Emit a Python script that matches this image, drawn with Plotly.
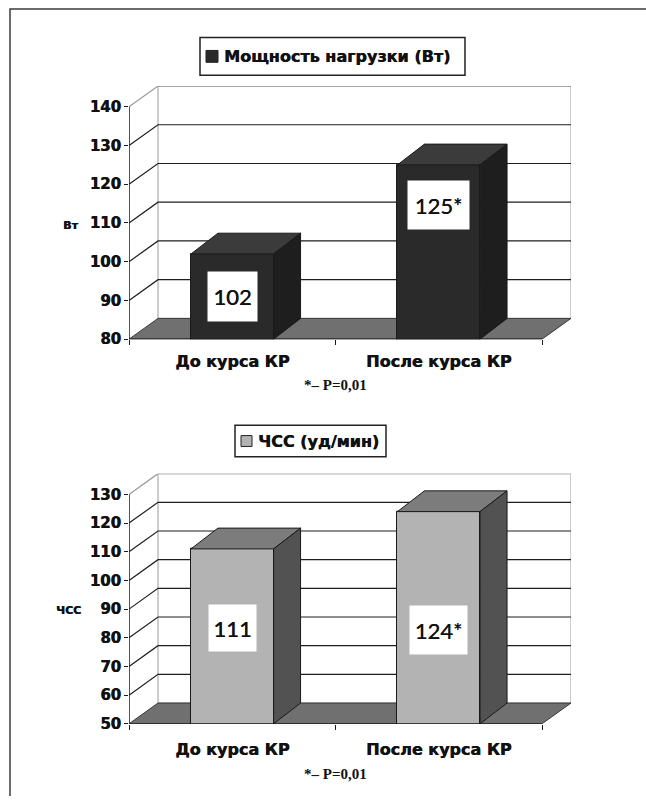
import plotly.graph_objects as go

# ---- data -------------------------------------------------------------
categories = ["До курса КР", "После курса КР"]

power_values = [102, 125]
power_labels = ["102", "125*"]
power_ticks = [80, 90, 100, 110, 120, 130, 140]

hr_values = [111, 124]
hr_labels = ["111", "124*"]
hr_ticks = [50, 60, 70, 80, 90, 100, 110, 120, 130]

note_text = "*– P=0,01"

# ---- page geometry ----------------------------------------------------
W, H = 646, 805
WALL_D = (29, 21)   # depth of the 3-D box (px right, px up)
BAR_D = (27, 21)    # depth of each 3-D column
BAR_WIDTH = 0.4

HEAVY = "0.5px 0 0 #111111"
TICK_FONT = dict(family="DejaVu Sans", size=15, color="#111111", weight="bold", shadow=HEAVY)
CAT_FONT = dict(family="DejaVu Sans", size=16, color="#111111", weight="bold", shadow=HEAVY)
GRID_COLOR = "#1e1e1e"
EDGE_COLOR = "#1a1a1a"
WALL_COLOR = "#9a9a9a"
FLOOR_COLOR = "#707070"


def paper_x(px):
    return px / W


def paper_y(py):
    return 1 - py / H


fig = go.Figure()
shapes = []
annotations = []
layout_axes = {}


def add_panel(n, values, labels, ticks, panel):
    xname = "x" if n == 1 else f"x{n}"
    yname = "y" if n == 1 else f"y{n}"
    left, top, right, bottom = panel["front_box"]
    x0, x1 = -0.5, len(values) - 0.5
    ymin, ymax = ticks[0], ticks[-1]

    # data units per pixel on the front plane
    ux = (x1 - x0) / (right - left)
    uy = (ymax - ymin) / (bottom - top)
    wdx, wdy = WALL_D[0] * ux, WALL_D[1] * uy
    bdx, bdy = BAR_D[0] * ux, BAR_D[1] * uy

    layout_axes["xaxis" if n == 1 else f"xaxis{n}"] = dict(
        domain=[paper_x(left), paper_x(right + WALL_D[0])],
        range=[x0, x1 + wdx],
        anchor=yname,
        tickmode="array",
        tickvals=list(range(len(categories))),
        ticktext=categories,
        ticks="",
        ticklabelstandoff=panel["cat_standoff"],
        tickfont=CAT_FONT,
        minor=dict(tickmode="array", tickvals=[x0] + [i + 0.5 for i in range(len(values))],
                   ticks="outside", ticklen=5, tickcolor=EDGE_COLOR, tickwidth=1),
        showline=False, showgrid=False, zeroline=False, fixedrange=True,
    )
    layout_axes["yaxis" if n == 1 else f"yaxis{n}"] = dict(
        domain=[paper_y(bottom), paper_y(top - WALL_D[1])],
        range=[ymin, ymax + wdy],
        anchor=xname,
        tickmode="array",
        tickvals=ticks,
        ticks="outside", ticklen=4, tickcolor=EDGE_COLOR, tickwidth=1,
        tickfont=TICK_FONT,
        showline=False, showgrid=False, zeroline=False, fixedrange=True,
    )

    ref = dict(xref=xname, yref=yname)

    # back wall
    shapes.append(dict(type="rect", x0=x0 + wdx, x1=x1 + wdx, y0=ymin + wdy, y1=ymax + wdy,
                       fillcolor="white", line=dict(color=WALL_COLOR, width=1), layer="below", **ref))
    # side-wall and back-wall grid lines
    for v in ticks[1:]:
        col = WALL_COLOR if v == ymax else GRID_COLOR
        path = f"M{x0},{v} L{x0 + wdx},{v + wdy} L{x1 + wdx},{v + wdy}"
        shapes.append(dict(type="path", path=path, line=dict(color=col, width=1.2),
                           layer="below", **ref))
    # floor
    path = (f"M{x0},{ymin} L{x0 + wdx},{ymin + wdy} L{x1 + wdx},{ymin + wdy} "
            f"L{x1},{ymin} Z")
    shapes.append(dict(type="path", path=path, fillcolor=FLOOR_COLOR,
                       line=dict(color="#3a3a3a", width=1), layer="below", **ref))

    # column front faces
    fig.add_trace(go.Bar(
        x=list(range(len(values))), y=values, width=BAR_WIDTH,
        marker=dict(color=panel["front"], line=dict(color=EDGE_COLOR, width=1)),
        xaxis=xname, yaxis=yname, showlegend=False, hoverinfo="skip",
    ))

    # column tops and sides
    for i, v in enumerate(values):
        xl, xr = i - BAR_WIDTH / 2, i + BAR_WIDTH / 2
        top_path = f"M{xl},{v} L{xl + bdx},{v + bdy} L{xr + bdx},{v + bdy} L{xr},{v} Z"
        side_path = f"M{xr},{v} L{xr + bdx},{v + bdy} L{xr + bdx},{ymin + bdy} L{xr},{ymin} Z"
        shapes.append(dict(type="path", path=top_path, fillcolor=panel["top"],
                           line=dict(color=EDGE_COLOR, width=1), layer="above", **ref))
        shapes.append(dict(type="path", path=side_path, fillcolor=panel["side"],
                           line=dict(color=EDGE_COLOR, width=1), layer="above", **ref))

    # front axis lines
    shapes.append(dict(type="line", x0=x0, x1=x0, y0=ymin, y1=ymax,
                       line=dict(color=EDGE_COLOR, width=1.5), layer="above", **ref))
    shapes.append(dict(type="line", x0=x0, x1=x1, y0=ymin, y1=ymin,
                       line=dict(color=EDGE_COLOR, width=1.5), layer="above", **ref))

    # value boxes
    for i, (lab, ly, (bw, bh)) in enumerate(zip(labels, panel["label_y"], panel["label_box"])):
        annotations.append(dict(
            x=i, y=ly, text=lab, showarrow=False, bgcolor="white",
            width=bw, height=bh, borderpad=0, align="center", valign="middle",
            font=dict(family="Lato", size=22, color="#111111", shadow="0.3px 0 0 #111111"),
            **ref))

    # axis title
    tx, ty = panel["title_pos"]
    annotations.append(dict(
        xref="paper", yref="paper", x=paper_x(tx), y=paper_y(ty), xanchor="right", yanchor="middle",
        text=panel["title"], showarrow=False,
        font=dict(family="DejaVu Sans", size=11, color="#111111", weight="bold", shadow=HEAVY)))

    # legend box
    lx0, ly0, lx1, ly1 = panel["legend_box"]
    shapes.append(dict(type="rect", xref="paper", yref="paper",
                       x0=paper_x(lx0), x1=paper_x(lx1), y0=paper_y(ly1), y1=paper_y(ly0),
                       fillcolor="white", line=dict(color="#222222", width=1.5), layer="below"))
    sq = panel["legend_square"]
    cy = (ly0 + ly1) / 2
    shapes.append(dict(type="rect", xref="paper", yref="paper",
                       x0=paper_x(lx0 + 6), x1=paper_x(lx0 + 6 + sq),
                       y0=paper_y(cy + sq / 2), y1=paper_y(cy - sq / 2),
                       fillcolor=panel["front"], line=dict(color="#222222", width=1), layer="above"))
    annotations.append(dict(
        xref="paper", yref="paper", x=paper_x(lx0 + 6 + sq + 4), y=paper_y(cy),
        xanchor="left", yanchor="middle", text=panel["legend_text"], showarrow=False,
        font=dict(family="DejaVu Sans", size=panel["legend_size"], color="#111111",
                  weight="bold", shadow=HEAVY)))

    # significance note
    annotations.append(dict(
        xref="paper", yref="paper", x=paper_x(panel["note_pos"][0]), y=paper_y(panel["note_pos"][1]),
        xanchor="center", yanchor="middle", text=note_text, showarrow=False,
        font=dict(family="Liberation Serif", size=15, color="#111111", weight="bold")))


add_panel(1, power_values, power_labels, power_ticks, dict(
    front_box=(129, 108, 542, 343),
    front="#2a2a2a", top="#3b3b3b", side="#1e1e1e",
    label_y=[91.0, 114.7], label_box=[(49, 49), (61, 48)],
    title="Вт", title_pos=(80, 228),
    legend_box=(200, 38, 465, 76), legend_square=12,
    legend_text="Мощность нагрузки (Вт)", legend_size=16,
    note_pos=(335, 389), cat_standoff=11,
))

add_panel(2, hr_values, hr_labels, hr_ticks, dict(
    front_box=(129, 500, 542, 732),
    front="#b3b3b3", top="#7c7c7c", side="#525252",
    label_y=[83.4, 82.8], label_box=[(47, 46), (57, 48)],
    title="ЧСС", title_pos=(83, 617),
    legend_box=(235, 430, 386, 462), legend_square=11,
    legend_text="ЧСС (уд/мин)", legend_size=16,
    note_pos=(335, 783), cat_standoff=14,
))

# page frame (left and top edges)
shapes.append(dict(type="path", xref="paper", yref="paper",
                   path=f"M{paper_x(10)},0 L{paper_x(10)},{paper_y(9)} L1,{paper_y(9)}",
                   line=dict(color="#3c3c3c", width=1.5)))

fig.update_layout(
    width=W, height=H, autosize=False,
    margin=dict(l=0, r=0, t=0, b=0),
    paper_bgcolor="white", plot_bgcolor="white",
    bargap=0, showlegend=False,
    shapes=shapes, annotations=annotations,
    **layout_axes,
)

fig.write_html("out.html")
